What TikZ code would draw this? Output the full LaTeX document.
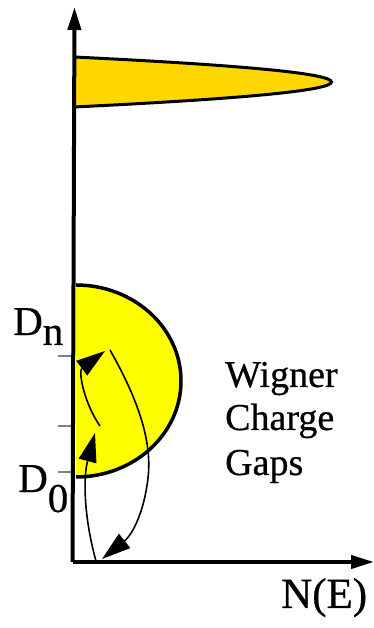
\documentclass[tikz,border=0pt]{standalone}
\usepackage{fontspec}
\setmainfont{Liberation Serif}
\newfontfamily\timesx{Liberation Serif}[FakeBold=0.6]
\usetikzlibrary{arrows.meta}
\definecolor{lobegold}{RGB}{255,215,0}
\definecolor{gapyellow}{RGB}{255,255,0}
\tikzset{
  axisline/.style={line width=4pt, -{Triangle[length=23pt,width=13pt]}},
  tickline/.style={line width=1.3pt, gray},
  flowarrow/.style={line width=1.6pt, -{Triangle[length=29pt,width=18pt]}},
  bigtext/.style={inner sep=0pt, font=\timesx\fontsize{41}{44}\selectfont},
  sidetext/.style={inner sep=0pt, font=\timesx\fontsize{38}{44}\selectfont, anchor=base west},
}
\begin{document}
\begin{tikzpicture}[x=1pt,y=1pt]
\useasboundingbox (0,0) rectangle (374,628);
% upper band (lobe)
\fill[lobegold] (74,521) .. controls (417.3,537.7) and (417.3,554.3) .. (74,571) -- cycle;
\draw[line width=3pt] (74,521) .. controls (417.3,537.7) and (417.3,554.3) .. (74,571);
% Wigner gap half-disc
\fill[gapyellow] (76,343) arc[start angle=90,end angle=-90,x radius=105,y radius=96] -- cycle;
\draw[line width=3.5pt] (76,343) arc[start angle=90,end angle=-90,x radius=105,y radius=96];
% ticks
\coordinate (t1a) at (58,272); \coordinate (t1b) at (74,272);
\coordinate (t2a) at (58,202); \coordinate (t2b) at (74,202);
\coordinate (t3a) at (58,156); \coordinate (t3b) at (74,156);
\draw[tickline] (t1a) -- (t1b);
\draw[tickline] (t2a) -- (t2b);
\draw[tickline] (t3a) -- (t3b);
% axes
\coordinate (origin) at (74.5,66);
\coordinate (ytop) at (74.5,621);
\coordinate (xend) at (374,66);
\draw[axisline] (72.5,66) -- (ytop);
\draw[axisline] (72.5,66) -- (xend);
% arrows
\coordinate (a0) at (96,67);
\coordinate (a1) at (95,195);
\coordinate (b0) at (100,202);
\coordinate (b1) at (105,277);
\coordinate (c0) at (110,278);
\coordinate (c1) at (102,69);
\draw[flowarrow] (a0) .. controls (84,110) and (83,150) .. (a1);
\draw[flowarrow] (b0) .. controls (84,225) and (78,257) .. (b1);
\draw[flowarrow] (c0) .. controls (140,225) and (152,185) .. (148,150) .. controls (144,115) and (132,93) .. (c1);
% labels
\node[bigtext, anchor=base west] (dn) at (13,293) {D\raisebox{-10pt}{n}};
\node[bigtext, anchor=base west] (d0) at (18,136) {D\raisebox{-20pt}{0}};
\node[sidetext] (w1) at (225,241) {Wigner};
\node[sidetext] (w2) at (225,198) {Charge};
\node[sidetext] (w3) at (225,153) {Gaps};
\node[bigtext, anchor=base west, font=\timesx\fontsize{43}{44}\selectfont] (ne) at (281,20) {N(E)};
\end{tikzpicture}
\end{document}
